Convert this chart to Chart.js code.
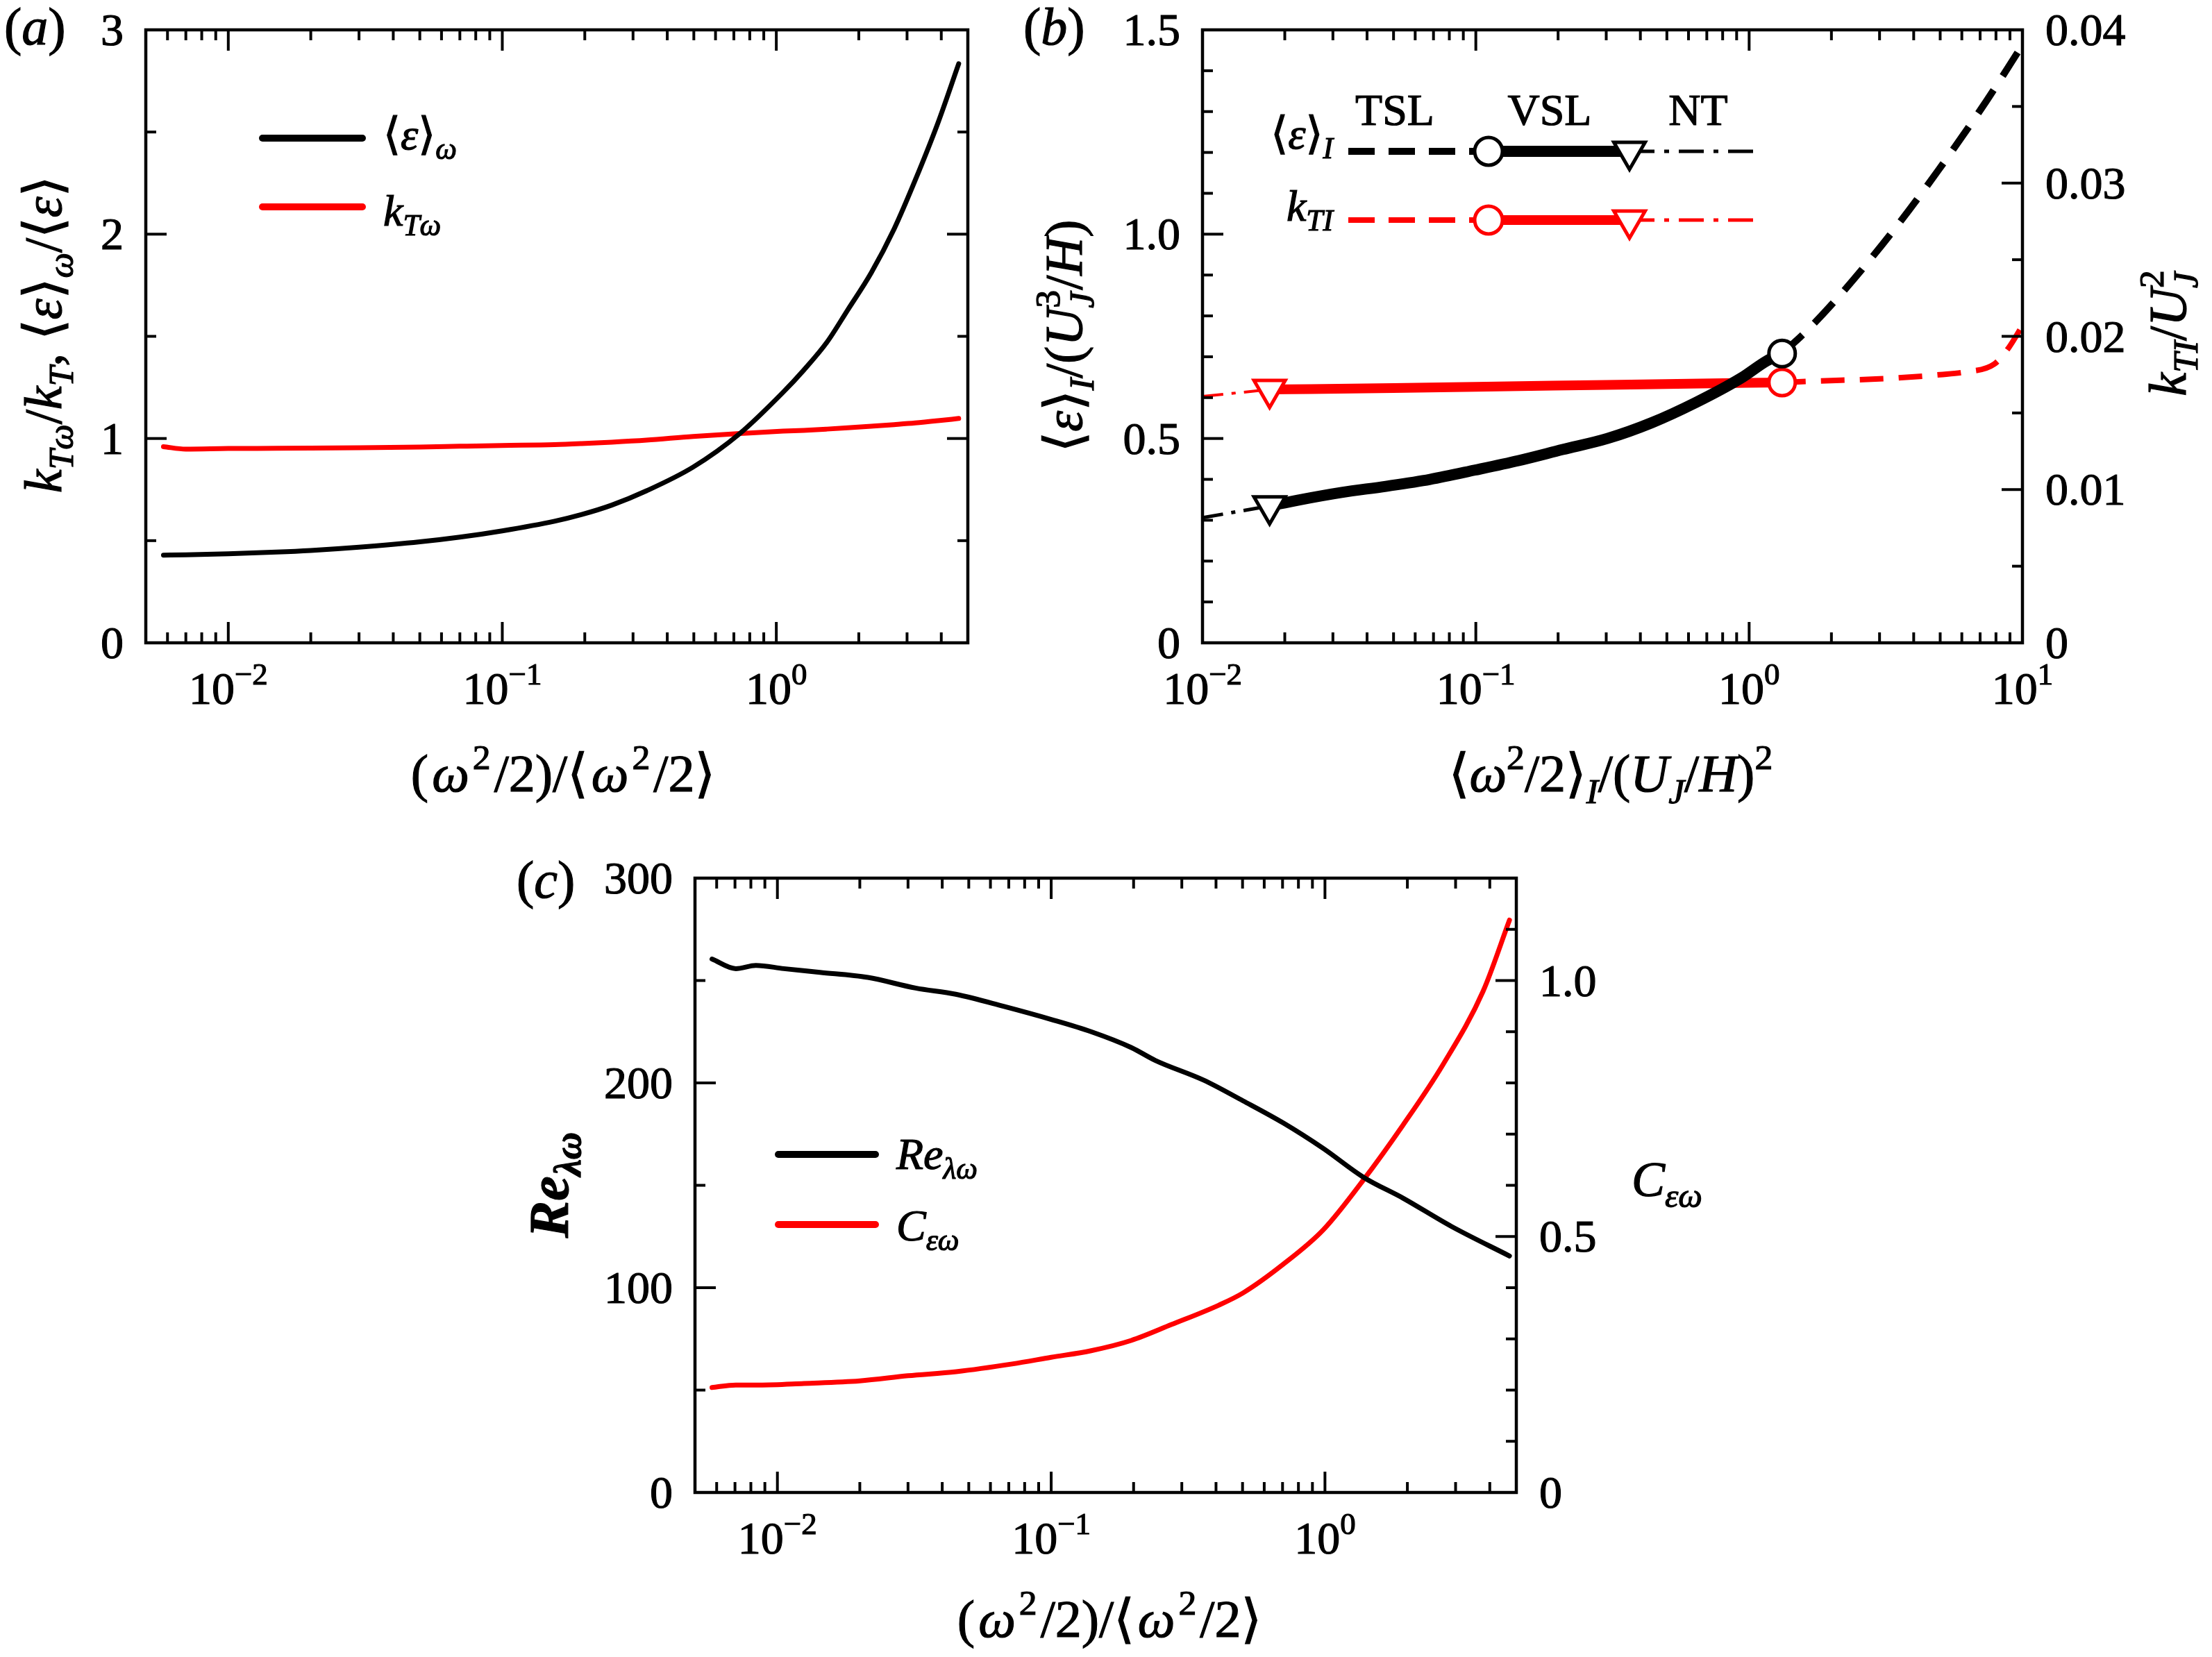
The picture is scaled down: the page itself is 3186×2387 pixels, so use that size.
<!DOCTYPE html>
<html>
<head>
<meta charset="utf-8">
<script src="https://cdn.jsdelivr.net/npm/chart.js@4.4.1/dist/chart.umd.min.js"></script>
<style>
html, body { margin: 0; padding: 0; background: #fff; }
canvas { position: absolute; left: 0; top: 0; }
</style>
</head>
<body>
<canvas id="chartA" width="3186" height="2387"></canvas>
<canvas id="chartB" width="3186" height="2387"></canvas>
<canvas id="chartC" width="3186" height="2387"></canvas>
<script>
// ---- panel (a) ----
var aX   = [0.0058, 0.007, 0.01, 0.015, 0.02, 0.03, 0.05, 0.07, 0.1, 0.155, 0.195, 0.251, 0.336, 0.497, 0.734,
            1.06, 1.26, 1.53, 1.82, 2.22, 2.69, 3.21, 3.89, 4.63];
var aEps = [0.429, 0.431, 0.436, 0.444, 0.452, 0.468, 0.494, 0.517, 0.548, 0.595, 0.628, 0.674, 0.744, 0.860, 1.023,
            1.227, 1.335, 1.471, 1.628, 1.811, 2.025, 2.263, 2.545, 2.834];
var aKT  = [0.960, 0.948, 0.951, 0.952, 0.953, 0.955, 0.958, 0.962, 0.966, 0.970, 0.975, 0.982, 0.992, 1.010, 1.024,
            1.036, 1.040, 1.046, 1.052, 1.060, 1.068, 1.076, 1.087, 1.098];

// ---- panel (b) ----
var bNtX    = [0.01, 0.0176];
var bNtEps  = [0.306, 0.335];
var bNtK    = [0.01608, 0.01653];
var bVslX   = [0.0176, 0.0223, 0.0323, 0.0469, 0.068, 0.099, 0.1435, 0.208, 0.303, 0.44, 0.638, 0.93, 1.16, 1.32];
var bVslEps = [0.335, 0.349, 0.368, 0.383, 0.400, 0.4225, 0.446, 0.473, 0.500, 0.5385, 0.588, 0.647, 0.690, 0.708];
var bVslKX  = [0.0176, 0.05, 0.1, 0.3, 0.6, 1.32];
var bVslK   = [0.01653, 0.01662, 0.01671, 0.01683, 0.01691, 0.01699];
var bTslX   = [1.32, 1.61, 2.12, 3.3, 4.93, 7.4, 10];
var bTslEps = [0.708, 0.761, 0.846, 1.001, 1.157, 1.327, 1.463];
var bTslKX  = [1.32, 1.76, 3.3, 5, 6.15, 7.9, 8.9, 10];
var bTslK   = [0.01699, 0.01708, 0.01726, 0.0175, 0.01767, 0.0182, 0.01925, 0.0207];
var bTriX = [0.0176], bTriEps = [0.335], bTriK = [0.01653];
var bCirX = [1.32],   bCirEps = [0.708], bCirK = [0.01699];

// ---- panel (c) ----
var cReX = [0.00577, 0.00705, 0.00834, 0.01055, 0.0143, 0.0214, 0.032, 0.0448, 0.067, 0.1, 0.14, 0.196, 0.24, 0.36, 0.503, 0.705, 0.986, 1.38, 1.93, 2.89, 4.72];
var cRe  = [260.5, 255.8, 257.4, 255.8, 254, 251.5, 246.3, 243.3, 237.4, 231, 225, 217.3, 211, 201.4, 191.2, 180.4, 168, 154, 143.7, 130, 115.5];
var cCX  = [0.00577, 0.00705, 0.0086, 0.0125, 0.02, 0.03, 0.045, 0.072, 0.1, 0.14, 0.196, 0.275, 0.41, 0.503, 0.705, 0.986, 1.38, 1.93, 2.7, 3.78, 4.72];
var cC   = [0.205, 0.21, 0.21, 0.213, 0.218, 0.228, 0.236, 0.251, 0.264, 0.277, 0.297, 0.328, 0.366, 0.39, 0.446, 0.513, 0.61, 0.718, 0.836, 0.979, 1.118];

// ---- ticks ----
var decTicks   = [0.01, 0.1, 1];
var decExp     = ['\u22122', '\u22121', '0'];
var decTicksB  = [0.01, 0.1, 1, 10];
var decExpB    = ['\u22122', '\u22121', '0', '1'];
var minorX     = [0.006, 0.007, 0.008, 0.009, 0.02, 0.03, 0.04, 0.05, 0.06, 0.07, 0.08, 0.09,
                  0.2, 0.3, 0.4, 0.5, 0.6, 0.7, 0.8, 0.9, 2, 3, 4];
var minorXB    = [0.02, 0.03, 0.04, 0.05, 0.06, 0.07, 0.08, 0.09, 0.2, 0.3, 0.4, 0.5, 0.6, 0.7, 0.8, 0.9,
                  2, 3, 4, 5, 6, 7, 8, 9];
var aYTicks  = [0, 1, 2, 3],  aYLabels = ['0', '1', '2', '3'],  aYMinor = [0.5, 1.5, 2.5];
var bYTicks  = [0, 0.5, 1.0, 1.5], bYLabels = ['0', '0.5', '1.0', '1.5'];
var bYMinor  = [0.1, 0.2, 0.3, 0.4, 0.6, 0.7, 0.8, 0.9, 1.1, 1.2, 1.3, 1.4];
var bY2Ticks = [0, 0.01, 0.02, 0.03, 0.04], bY2Labels = ['0', '0.01', '0.02', '0.03', '0.04'];
var bY2Minor = [0.005, 0.015, 0.025, 0.035];
var cYTicks  = [0, 100, 200, 300], cYLabels = ['0', '100', '200', '300'], cYMinor = [50, 150, 250];
var cY2Ticks = [0, 0.5, 1.0], cY2Labels = ['0', '0.5', '1.0'];
var cY2Minor = [0.1, 0.2, 0.3, 0.4, 0.6, 0.7, 0.8, 0.9, 1.1];

var FONT = "'Liberation Serif', 'DejaVu Serif', serif";
var RED = '#ff0000';
var TICK = 66, TITLE = 76, LEG = 64;

function pts(xs, ys) {
    return xs.map(function (x, i) { return { x: x, y: ys[i] }; });
}

// draws math-like text: segs = [[text, flags]], flags: i italic, w bold, b sub, p sup, s stack on previous
function rich(ctx, segs, x, y, size, align, rot, gap) {
    var parts = [], w = 0, prevStart = 0;
    gap = gap || 0;
    segs.forEach(function (s, k) {
        var f = s[1] || '';
        var small = f.indexOf('b') >= 0 || f.indexOf('p') >= 0;
        var sz = small ? size * 0.68 : size;
        var font = (f.indexOf('i') >= 0 ? 'italic ' : '') + (f.indexOf('w') >= 0 ? 'bold ' : '') + sz + 'px ' + FONT;
        ctx.font = font;
        var tw = ctx.measureText(s[0]).width;
        var dy = f.indexOf('b') >= 0 ? size * 0.22 : (f.indexOf('p') >= 0 ? -size * 0.42 : 0);
        var px = f.indexOf('s') >= 0 ? prevStart : (k > 0 ? w + gap : w);
        parts.push({ t: s[0], font: font, x: px, dy: dy });
        prevStart = px;
        w = Math.max(w, px + tw);
    });
    var off = align === 'center' ? -w / 2 : (align === 'right' ? -w : 0);
    ctx.save();
    ctx.translate(x, y);
    if (rot) ctx.rotate(rot);
    ctx.textAlign = 'left';
    ctx.textBaseline = 'alphabetic';
    ctx.fillStyle = '#000';
    ctx.strokeStyle = '#000';
    ctx.lineWidth = 1.2;
    ctx.setLineDash([]);
    parts.forEach(function (p) {
        ctx.font = p.font;
        ctx.fillText(p.t, off + p.x, p.dy);
        ctx.strokeText(p.t, off + p.x, p.dy);
    });
    ctx.restore();
}

function seg(ctx, x1, y1, x2, y2) {
    ctx.beginPath();
    ctx.moveTo(x1, y1);
    ctx.lineTo(x2, y2);
    ctx.stroke();
}

function axesPlugin(cfg) {
    return {
        id: 'axesFrame',
        afterDraw: function (chart) {
            var ctx = chart.ctx, a = chart.chartArea;
            var sx = chart.scales.x, sy = chart.scales.y, sr = chart.scales[cfg.rightScale];
            ctx.save();
            ctx.strokeStyle = '#000';
            ctx.fillStyle = '#000';
            ctx.lineCap = 'butt';
            ctx.setLineDash([]);
            ctx.lineWidth = 4;
            cfg.xMajor.concat(cfg.xMinor).forEach(function (v, i) {
                var len = i < cfg.xMajor.length ? 30 : 15;
                var px = sx.getPixelForValue(v);
                seg(ctx, px, a.bottom, px, a.bottom - len);
                seg(ctx, px, a.top, px, a.top + len);
            });
            cfg.yMajor.concat(cfg.yMinor).forEach(function (v, i) {
                var len = i < cfg.yMajor.length ? 30 : 15;
                var py = sy.getPixelForValue(v);
                seg(ctx, a.left, py, a.left + len, py);
            });
            cfg.rMajor.concat(cfg.rMinor).forEach(function (v, i) {
                var len = i < cfg.rMajor.length ? 30 : 15;
                var py = sr.getPixelForValue(v);
                seg(ctx, a.right, py, a.right - len, py);
            });
            ctx.lineWidth = 4.5;
            ctx.strokeRect(a.left, a.top, a.right - a.left, a.bottom - a.top);

            // tick labels
            cfg.xMajor.forEach(function (v, i) {
                rich(ctx, [['10'], [cfg.xExp[i], 'p']], sx.getPixelForValue(v), a.bottom + 88, TICK, 'center');
            });
            cfg.yMajor.forEach(function (v, i) {
                rich(ctx, [[cfg.yLabels[i]]], a.left - 32, sy.getPixelForValue(v) + 22, TICK, 'right');
            });
            if (cfg.rLabels) {
                cfg.rMajor.forEach(function (v, i) {
                    rich(ctx, [[cfg.rLabels[i]]], a.right + 33, sr.getPixelForValue(v) + 22, TICK, 'left');
                });
            }
            cfg.extra(ctx);
            ctx.restore();
        }
    };
}

function baseOptions(pad, xMin, xMax, yMax, y2Max) {
    var scales = {
        x: { type: 'logarithmic', min: xMin, max: xMax, display: false },
        y: { type: 'linear', min: 0, max: yMax, display: false }
    };
    if (y2Max) scales.y2 = { type: 'linear', position: 'right', min: 0, max: y2Max, display: false };
    return {
        responsive: false,
        devicePixelRatio: 1,
        animation: false,
        layout: { padding: pad },
        plugins: { legend: { display: false }, tooltip: { enabled: false } },
        elements: { point: { radius: 0 } },
        scales: scales
    };
}

function lineSet(data, color, width, dash, axis) {
    return {
        data: data, borderColor: color, borderWidth: width, borderDash: dash || [],
        borderCapStyle: dash ? 'butt' : 'round', borderJoinStyle: 'round',
        cubicInterpolationMode: 'monotone', pointRadius: 0, fill: false,
        yAxisID: axis || 'y', order: 2
    };
}

function markSet(data, color, style, r, axis) {
    return {
        data: data, showLine: false, pointStyle: style, pointRotation: style === 'triangle' ? 180 : 0,
        pointRadius: r, pointBorderWidth: 5, pointBorderColor: color, pointBackgroundColor: '#fff',
        yAxisID: axis || 'y', order: 0
    };
}

var omegaTitle = [['('], ['\u03c9', 'i'], ['2', 'p'], ['/2)/\u27e8'], ['\u03c9', 'i'], ['2', 'p'], ['/2\u27e9']];

// ---------------- (a) ----------------
new Chart(document.getElementById('chartA'), {
    type: 'line',
    data: {
        datasets: [
            lineSet(pts(aX, aEps), '#000', 7),
            lineSet(pts(aX, aKT), RED, 7)
        ]
    },
    options: baseOptions({ left: 210, top: 43, right: 1792, bottom: 1461 }, 0.005, 5, 3),
    plugins: [axesPlugin({
        rightScale: 'y',
        xMajor: decTicks, xMinor: minorX, xExp: decExp,
        yMajor: aYTicks, yMinor: aYMinor, yLabels: aYLabels,
        rMajor: aYTicks, rMinor: aYMinor, rLabels: null,
        extra: function (ctx) {
            rich(ctx, [['('], ['a', 'i'], [')']], 6, 64, TITLE, 'left');
            rich(ctx, omegaTitle, 811, 1140, TITLE, 'center', 0, 5);
            rich(ctx, [['k', 'i'], ['T\u03c9', 'ib'], ['/'], ['k', 'i'], ['T', 'ib'], [', \u27e8'], ['\u03b5', 'i'], ['\u27e9'],
                       ['\u03c9', 'ib'], ['/\u27e8'], ['\u03b5', 'i'], ['\u27e9']],
                 88, 482, TITLE, 'center', -Math.PI / 2);
            ctx.lineCap = 'round';
            ctx.lineWidth = 10;
            ctx.strokeStyle = '#000';
            seg(ctx, 378, 199, 522, 199);
            ctx.strokeStyle = RED;
            seg(ctx, 378, 298, 522, 298);
            rich(ctx, [['\u27e8'], ['\u03b5', 'i'], ['\u27e9'], ['\u03c9', 'ib']], 552, 215, LEG, 'left');
            rich(ctx, [['k', 'i'], ['T\u03c9', 'ib']], 552, 325, LEG, 'left');
        }
    })]
});

// ---------------- (b) ----------------
function drawTri(ctx, x, y, r) {
    ctx.beginPath();
    ctx.moveTo(x, y + r);
    ctx.lineTo(x - 0.866 * r, y - 0.5 * r);
    ctx.lineTo(x + 0.866 * r, y - 0.5 * r);
    ctx.closePath();
    ctx.fillStyle = '#fff';
    ctx.fill();
    ctx.stroke();
}
function drawCirc(ctx, x, y, r) {
    ctx.beginPath();
    ctx.arc(x, y, r, 0, Math.PI * 2);
    ctx.fillStyle = '#fff';
    ctx.fill();
    ctx.stroke();
}
function legendRowB(ctx, y, color, tslW, vslW) {
    ctx.strokeStyle = color;
    ctx.lineCap = 'butt';
    ctx.lineWidth = tslW;
    ctx.setLineDash([38, 20]);
    seg(ctx, 1942, y, 2143, y);
    ctx.lineWidth = 5;
    ctx.setLineDash([36, 14, 7, 14]);
    seg(ctx, 2347, y, 2536, y);
    ctx.setLineDash([]);
    ctx.lineWidth = vslW;
    seg(ctx, 2143, y, 2347, y);
    ctx.lineWidth = 5;
    drawCirc(ctx, 2144, y, 20);
    drawTri(ctx, 2347, y, 26);
}

new Chart(document.getElementById('chartB'), {
    type: 'line',
    data: {
        datasets: [
            markSet(pts(bTriX, bTriEps), '#000', 'triangle', 26),
            markSet(pts(bCirX, bCirEps), '#000', 'circle', 19),
            markSet(pts(bTriX, bTriK), RED, 'triangle', 26, 'y2'),
            markSet(pts(bCirX, bCirK), RED, 'circle', 19, 'y2'),
            lineSet(pts(bNtX, bNtEps), '#000', 5, [30, 12, 6, 12]),
            lineSet(pts(bVslX, bVslEps), '#000', 16),
            lineSet(pts(bTslX, bTslEps), '#000', 10, [40, 24]),
            lineSet(pts(bNtX, bNtK), RED, 4, [30, 12, 6, 12], 'y2'),
            lineSet(pts(bVslKX, bVslK), RED, 14, null, 'y2'),
            lineSet(pts(bTslKX, bTslK), RED, 8, [34, 22], 'y2')
        ]
    },
    options: baseOptions({ left: 1732, top: 43, right: 273, bottom: 1461 }, 0.01, 10, 1.5, 0.04),
    plugins: [axesPlugin({
        rightScale: 'y2',
        xMajor: decTicksB, xMinor: minorXB, xExp: decExpB,
        yMajor: bYTicks, yMinor: bYMinor, yLabels: bYLabels,
        rMajor: bY2Ticks, rMinor: bY2Minor, rLabels: bY2Labels,
        extra: function (ctx) {
            rich(ctx, [['('], ['b', 'i'], [')']], 1474, 64, TITLE, 'left');
            rich(ctx, [['\u27e8'], ['\u03c9', 'i'], ['2', 'p'], ['/2\u27e9'], ['I', 'ib'], ['/('], ['U', 'i'], ['J', 'ib'],
                       ['/'], ['H', 'i'], [')'], ['2', 'p']],
                 2320, 1140, TITLE, 'center');
            rich(ctx, [['\u27e8'], ['\u03b5', 'i'], ['\u27e9'], ['I', 'ib'], ['/('], ['U', 'i'], ['J', 'ib'], ['3', 'ps'],
                       ['/'], ['H', 'i'], [')']],
                 1558, 484, TITLE, 'center', -Math.PI / 2);
            rich(ctx, [['k', 'i'], ['TI', 'ib'], ['/'], ['U', 'i'], ['J', 'ib'], ['2', 'ps']],
                 3148, 480, TITLE, 'center', -Math.PI / 2);
            rich(ctx, [['TSL']], 2009, 180, LEG, 'center');
            rich(ctx, [['VSL']], 2232, 180, LEG, 'center');
            rich(ctx, [['NT']], 2446, 180, LEG, 'center');
            rich(ctx, [['\u27e8'], ['\u03b5', 'i'], ['\u27e9'], ['I', 'ib']], 1920, 214, LEG, 'right');
            rich(ctx, [['k', 'i'], ['TI', 'ib']], 1920, 318, LEG, 'right');
            legendRowB(ctx, 218, '#000', 10, 16);
            legendRowB(ctx, 317, RED, 8, 14);
        }
    })]
});

// ---------------- (c) ----------------
new Chart(document.getElementById('chartC'), {
    type: 'line',
    data: {
        datasets: [
            lineSet(pts(cReX, cRe), '#000', 7),
            lineSet(pts(cCX, cC), RED, 7, null, 'y2')
        ]
    },
    options: baseOptions({ left: 1001, top: 1265, right: 1002, bottom: 237 }, 0.005, 5, 300, 1.2),
    plugins: [axesPlugin({
        rightScale: 'y2',
        xMajor: decTicks, xMinor: minorX, xExp: decExp,
        yMajor: cYTicks, yMinor: cYMinor, yLabels: cYLabels,
        rMajor: cY2Ticks, rMinor: cY2Minor, rLabels: cY2Labels,
        extra: function (ctx) {
            rich(ctx, [['('], ['c', 'i'], [')']], 744, 1293, TITLE, 'left');
            rich(ctx, omegaTitle, 1598, 2358, TITLE, 'center', 0, 5);
            rich(ctx, [['Re', 'iw'], ['\u03bb\u03c9', 'ibw']], 818, 1707, 80, 'center', -Math.PI / 2);
            rich(ctx, [['C', 'i'], ['\u03b5\u03c9', 'ib']], 2350, 1723, 72, 'left');
            ctx.lineCap = 'round';
            ctx.lineWidth = 10;
            ctx.strokeStyle = '#000';
            seg(ctx, 1121, 1663, 1261, 1663);
            ctx.strokeStyle = RED;
            seg(ctx, 1121, 1764, 1261, 1764);
            rich(ctx, [['Re', 'i'], ['\u03bb\u03c9', 'ib']], 1291, 1684, LEG, 'left');
            rich(ctx, [['C', 'i'], ['\u03b5\u03c9', 'ib']], 1291, 1787, LEG, 'left');
        }
    })]
});
</script>
</body>
</html>
